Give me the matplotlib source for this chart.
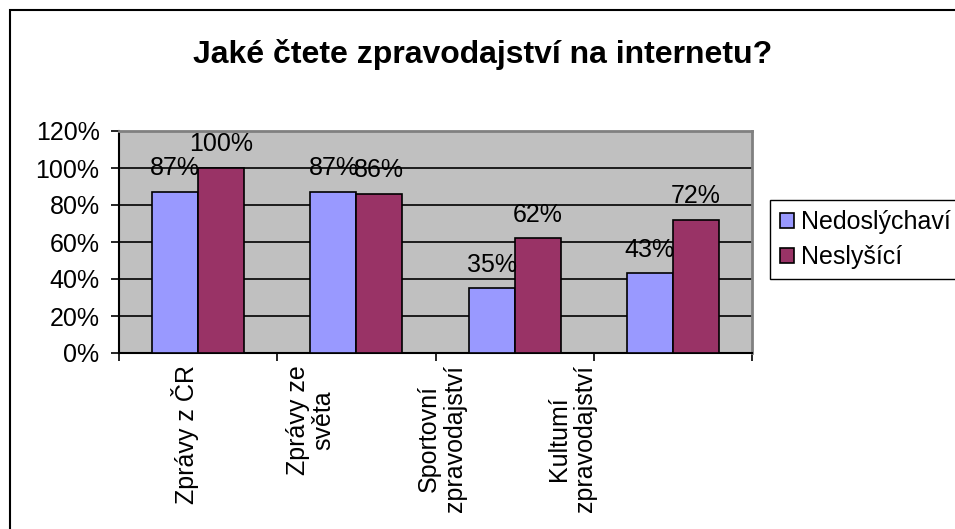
#!/usr/bin/env python3
"""Excel-style grouped bar chart: which internet news do people read."""
import matplotlib; matplotlib.use("Agg")
import matplotlib.pyplot as plt
import matplotlib.transforms as mtransforms
from matplotlib.patches import Rectangle
import numpy as np

plt.rcParams["font.family"] = ["Liberation Sans", "DejaVu Sans"]

TITLE = "Jaké čtete zpravodajství na internetu?"
CATS = ["Zprávy z ČR", "Zprávy ze\nsvěta", "Sportovní\nzpravodajství", "Kultumí\nzpravodajství"]
SERIES = ["Nedoslýchaví", "Neslyšící"]
NEDOSL = [0.87, 0.87, 0.35, 0.43]
NESLYS = [1.00, 0.86, 0.62, 0.72]
YTICKS = [0, 0.2, 0.4, 0.6, 0.8, 1.0, 1.2]

C_BLUE = "#9999FF"; C_RED = "#993366"; C_BG = "#C0C0C0"
W, H = 955, 529
FS = 18

fig = plt.figure(figsize=(W/100, H/100), dpi=100)
# outer chart border
fig.patches.append(Rectangle((10/W, -0.05), 1.1, 1 - 10/H + 0.05, transform=fig.transFigure,
                             fill=False, edgecolor="black", linewidth=1.5))
ax = fig.add_axes([119/W, 1 - 353/H, 633/W, 222/H])
ax.set_facecolor(C_BG)

x = np.arange(len(CATS)); bw = 0.29
for vals, col, off, name in [(NEDOSL, C_BLUE, -bw/2, SERIES[0]), (NESLYS, C_RED, bw/2, SERIES[1])]:
    bars = ax.bar(x + off, vals, bw, color=col, edgecolor="black", linewidth=1.2, label=name, zorder=3)
    for b, v in zip(bars, vals):
        ax.annotate(f"{v*100:.0f}%", (b.get_x() + b.get_width()/2, v), xytext=(0, 12),
                    textcoords="offset points", ha="center", va="baseline", fontsize=FS, zorder=5)

ax.set_xlim(-0.5, len(CATS) - 0.5)
ax.set_ylim(0, 1.2)
ax.set_yticks(YTICKS)
ax.set_yticklabels([f"{v*100:.0f}%" for v in YTICKS], fontsize=FS)
ax.yaxis.grid(True, color="black", linewidth=1.2, zorder=1)
ax.set_axisbelow(True)
ax.tick_params(axis="y", length=6, width=1.2, pad=8)

# ticks at category boundaries, labels placed like the Excel original
ax.set_xticks(np.arange(len(CATS) + 1) - 0.5)
ax.set_xticklabels([])
ax.tick_params(axis="x", length=6, width=1.2)
label_x = [-0.08, 0.71, 1.54, 2.36]
trans = mtransforms.blended_transform_factory(ax.transData, ax.transAxes) + \
    mtransforms.ScaledTranslation(0, -12/100, fig.dpi_scale_trans)
for lx, c in zip(label_x, CATS):
    ax.text(lx, 0, c, transform=trans, rotation=90, ha="center", va="top",
            multialignment="center", fontsize=FS, linespacing=1.1, clip_on=False)

for s in ["left", "bottom"]:
    ax.spines[s].set_color("black"); ax.spines[s].set_linewidth(1.5)
for s in ["top", "right"]:
    ax.spines[s].set_color("#808080"); ax.spines[s].set_linewidth(2)

fig.text(483/W, 1 - 55/H, TITLE, ha="center", va="center", fontsize=23, fontweight="bold")

fig.legend(loc="upper left", bbox_to_anchor=(770/W, 1 - 200/H), fontsize=FS, frameon=True,
           fancybox=False, edgecolor="black", framealpha=1, handlelength=0.55, handleheight=0.55,
           handletextpad=0.3, borderaxespad=0, borderpad=0.4, labelspacing=0.45)

fig.savefig("out.png", dpi=100)
